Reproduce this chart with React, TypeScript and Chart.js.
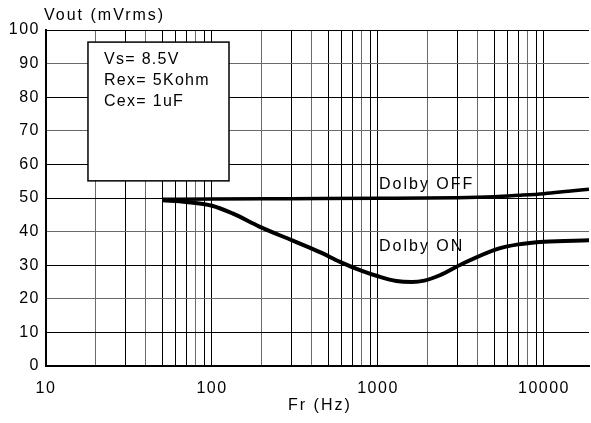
import React, { useEffect, useRef } from "react";
import { Chart, registerables } from "chart.js";

Chart.register(...registerables);

const xMin = 10;
const xMax = 18670;
const xTickValues = [
  10, 20, 30, 40, 50, 60, 70, 80, 90,
  100, 200, 300, 400, 500, 600, 700, 800, 900,
  1000, 2000, 3000, 4000, 5000, 6000, 7000, 8000, 9000,
  10000,
];
const xLabelValues = [10, 100, 1000, 10000];
const yTicks = [0, 10, 20, 30, 40, 50, 60, 70, 80, 90, 100];

const offFreq = [50, 100, 300, 1000, 3000, 5000, 7000, 10000, 14000, 18670];
const offVals = [49.6, 49.7, 49.8, 49.9, 50.1, 50.4, 50.8, 51.3, 52.0, 52.6];

const onFreq = [50, 70, 100, 133, 193, 307, 450, 590, 800, 1000, 1290, 1600, 1900, 2360, 3250, 5200, 7000, 10000, 18670];
const onVals = [49.3, 48.8, 47.7, 45.4, 41.5, 37.3, 33.8, 31.0, 28.3, 26.7, 25.3, 25.0, 25.4, 27.0, 30.5, 34.8, 36.2, 37.0, 37.4];

const conditionLines = ["Vs= 8.5V", "Rex= 5Kohm", "Cex= 1uF"];
const yTitle = "Vout (mVrms)";
const xTitle = "Fr (Hz)";
const offLabel = "Dolby OFF";
const onLabel = "Dolby ON";

const FONT = "'Liberation Sans', Arial, sans-serif";

export default function App() {
  const ref = useRef<HTMLCanvasElement | null>(null);
  useEffect(() => {
    const canvas = ref.current;
    if (!canvas) return;

    const spacing = {
      id: "spacing",
      beforeUpdate(chart: any) {
        chart.ctx.letterSpacing = "1.5px";
      },
      beforeDraw(chart: any) {
        chart.ctx.letterSpacing = "1.5px";
      },
    };

    const annot = {
      id: "annot",
      afterDraw(chart: any) {
        const ctx = chart.ctx;
        const xs = chart.scales.x;
        const ys = chart.scales.y;
        ctx.save();
        ctx.letterSpacing = "2px";
        ctx.fillStyle = "#000";
        ctx.font = `16px ${FONT}`;
        ctx.textBaseline = "middle";
        ctx.textAlign = "left";
        ctx.fillText(yTitle, 44, 16);
        ctx.fillText(xTitle, 288, 406);
        ctx.fillText(offLabel, 379, 185);
        ctx.fillText(onLabel, 379, 247);
        // conditions box
        const bx = xs.getPixelForValue(17.9);
        const bx2 = xs.getPixelForValue(126.6);
        const by = ys.getPixelForValue(96.4);
        const by2 = ys.getPixelForValue(55.1);
        ctx.fillStyle = "#fff";
        ctx.fillRect(bx, by, bx2 - bx, by2 - by);
        ctx.strokeStyle = "#000";
        ctx.lineWidth = 1.5;
        ctx.strokeRect(bx, by, bx2 - bx, by2 - by);
        ctx.fillStyle = "#000";
        ctx.letterSpacing = "1.3px";
        conditionLines.forEach((t, i) => {
          ctx.fillText(t, bx + 16, by + 17 + i * 21);
        });
        ctx.restore();
      },
    };

    const gridColorX = (c: any) => {
      const v = c.tick ? c.tick.value : 0;
      const lead = Math.round(v / Math.pow(10, Math.floor(Math.log10(v) + 1e-9)));
      return lead === 2 || lead === 4 || lead === 8 ? "#6a6a6a" : "#000";
    };
    const gridColorY = (c: any) => {
      const v = c.tick ? c.tick.value : 0;
      return v === 90 || v === 40 || v === 70 || v === 20 ? "#6a6a6a" : "#000";
    };

    const chart = new Chart(canvas, {
      type: "line",
      data: {
        datasets: [
          {
            label: offLabel,
            data: offFreq.map((f, i) => ({ x: f, y: offVals[i] })),
            borderColor: "#000",
            borderWidth: 3.5,
            pointRadius: 0,
            cubicInterpolationMode: "monotone",
          },
          {
            label: onLabel,
            data: onFreq.map((f, i) => ({ x: f, y: onVals[i] })),
            borderColor: "#000",
            borderWidth: 4,
            pointRadius: 0,
            cubicInterpolationMode: "monotone",
          },
        ],
      },
      options: {
        responsive: false,
        animation: false,
        layout: { padding: { top: 30, right: 2, left: 0, bottom: 0 } },
        plugins: { legend: { display: false }, tooltip: { enabled: false }, title: { display: false } },
        scales: {
          x: {
            type: "logarithmic",
            min: xMin,
            max: xMax,
            afterBuildTicks: (scale: any) => {
              scale.ticks = xTickValues.map((v) => ({ value: v }));
            },
            afterFit: (scale: any) => {
              scale.height = 57;
            },
            ticks: {
              autoSkip: false,
              maxRotation: 0,
              padding: 13,
              color: "#000",
              font: { family: FONT, size: 16 },
              callback: (v: any) => (xLabelValues.includes(Number(v)) ? String(v) : ""),
            },
            grid: { color: gridColorX, lineWidth: 1, drawTicks: false },
            border: { color: "#000", width: 2 },
          },
          y: {
            min: 0,
            max: 100,
            afterBuildTicks: (scale: any) => {
              scale.ticks = yTicks.map((v) => ({ value: v }));
            },
            afterFit: (scale: any) => {
              scale.width = 46;
            },
            ticks: {
              padding: 6,
              color: "#000",
              font: { family: FONT, size: 16 },
            },
            grid: { color: gridColorY, lineWidth: 1, drawTicks: false },
            border: { color: "#000", width: 2 },
          },
        },
      },
      plugins: [spacing, annot],
    });
    return () => chart.destroy();
  }, []);

  return (
    <div style={{ position: "absolute", left: 0, top: 0, width: 591, height: 423, background: "#fff" }}>
      <canvas ref={ref} width={591} height={423} style={{ display: "block" }} />
    </div>
  );
}
